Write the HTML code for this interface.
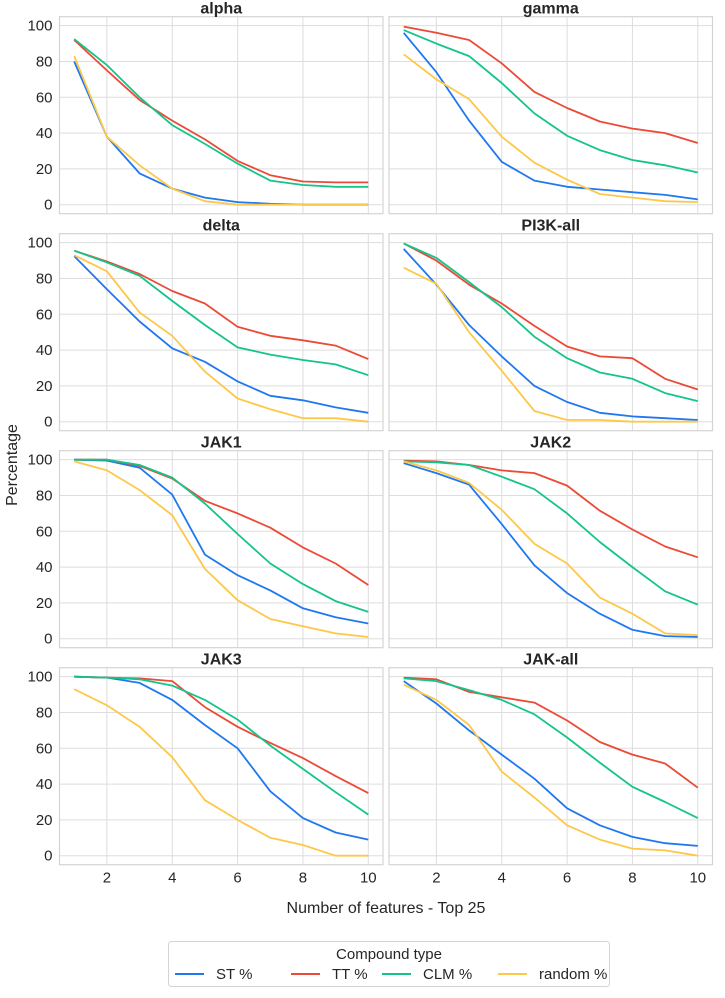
<!DOCTYPE html>
<html><head><meta charset="utf-8"><style>
body{margin:0;background:#fff;}
svg{display:block;font-family:"Liberation Sans",Arial,sans-serif;}
</style></head><body>
<svg id="chart" width="725" height="998" viewBox="0 0 725 998" xmlns="http://www.w3.org/2000/svg"></svg>
<script>
const panelTitles = ["alpha","gamma","delta","PI3K-all","JAK1","JAK2","JAK3","JAK-all"];
const xValues = [1,2,3,4,5,6,7,8,9,10];
const xTicks = [2,4,6,8,10];
const yTicks = [0,20,40,60,80,100];
const seriesNames = ["ST %","TT %","CLM %","random %"];
const stData = [
 [80,38,17.5,9,4,1.5,0.5,0,0,0],
 [96,74,47,24,13.5,10,8.5,7,5.5,3],
 [92.5,74,56,41,33.5,22.5,14.5,12,8,5],
 [96.5,76.5,54,36.5,20,11,5,3,2,1],
 [100,99.5,95.5,80.5,47,35.5,27,17,12,8.5],
 [98,92.5,86,64,41,25.5,14,5,1.5,1],
 [100,99.5,96.5,87,73,60,36,21,13,9],
 [97.5,85,70,56.5,43,26.5,17,10.5,7,5.5]];
const ttData = [
 [92,75,58.5,47,36.5,24.5,16.5,13,12.5,12.5],
 [99.5,96,92,79,63,54,46.5,42.5,40,34.5],
 [95.5,89.5,82.5,73,66,53,48,45.5,42.5,35],
 [99.5,90,76.5,66,53.5,42,36.5,35.5,24,18],
 [100,100,96.5,89.5,77,70,62,51,42,30],
 [99.5,99,97,94,92.5,85.5,71.5,61,51.5,45.5],
 [100,99.5,99,97.5,83,72,63,54.5,44.5,35],
 [99.5,98.5,91.5,88.5,85.5,75.5,63.5,56.5,51.5,38]];
const clmData = [
 [92.5,78,60,44.5,34,23,13.5,11,10,10],
 [97.5,90,83,68,51,38.5,30.5,25,22,18],
 [95.5,89,81.5,67.5,54,41.5,37.5,34.5,32,26],
 [99.5,91.5,78,64,47.5,35.5,27.5,24,16,11.5],
 [100,100,97,90,75.5,58.5,42,30.5,21,15],
 [99,98.5,97,90.5,83.5,70,54,40,26.5,19],
 [100,99.5,98.5,95,87,76,61.5,48.5,35.5,23],
 [99,97.5,92.5,87,79,66,52,38.5,30,21]];
const randomData = [
 [83,38,22,9,2,0,0,0,0,0],
 [84,70,59,38,23.5,14,6,4,2,1.5],
 [93,84,61,48,28,13,7,2,2,0],
 [86,77,50,28.5,6,1,1,0,0,0],
 [99,94,83,69,39,21.5,11,7,3,1],
 [99,94,87,72,53,42,23,14,3,2],
 [93,84,72,55,31,20,10,6,0,0],
 [95.5,87,73,47,32.5,17,9,4,3,0]];

const colors = ["#1f78f0","#eb4a36","#14c48a","#fdc84a"];
const allSeries = [stData, ttData, clmData, randomData];
const NS = "http://www.w3.org/2000/svg";
const svg = document.getElementById("chart");
function mk(tag, attrs, parent){const e=document.createElementNS(NS,tag);for(const k in attrs)e.setAttribute(k,attrs[k]);(parent||svg).appendChild(e);return e;}

const colX=[59.5,389], pw=323.5, ph=197, rowY0=16.7, rowPitch=217;
const xMin=0.55,xMax=10.45,yMin=-5,yMax=105;

panelTitles.forEach((title,i)=>{
  const c=i%2, r=Math.floor(i/2);
  const px=colX[c], py=rowY0+r*rowPitch;
  const sx=v=>px+(v-xMin)/(xMax-xMin)*pw;
  const sy=v=>py+(yMax-v)/(yMax-yMin)*ph;
  const g=mk("g",{});
  
  
  yTicks.forEach(t=>{
    const l=mk("line",{x1:px,x2:px+pw,y1:sy(t),y2:sy(t),stroke:"#dddddd","stroke-width":1},g);
    
    
    if(c===0){
      const tx=mk("text",{x:px-7,y:sy(t)+5,"text-anchor":"end","font-size":15,fill:"#262626"},g);
      tx.textContent=t;
      
      
    }
  });
  xTicks.forEach(t=>{
    const l=mk("line",{x1:sx(t),x2:sx(t),y1:py,y2:py+ph,stroke:"#dddddd","stroke-width":1},g);
    
    
    if(r===3){
      const tx=mk("text",{x:sx(t),y:py+ph+18,"text-anchor":"middle","font-size":15,fill:"#262626"},g);
      tx.textContent=t;
      
      
    }
  });
  const border=mk("rect",{x:px,y:py,width:pw,height:ph,fill:"none",stroke:"#d4d4d4","stroke-width":1.2},g);
  
  
  const tt=mk("text",{x:px+pw/2,y:py-3,"text-anchor":"middle","font-size":16,"font-weight":"bold",fill:"#262626"},g);
  tt.textContent=title;
  
  
  allSeries.forEach((s,k)=>{
    const pts=xValues.map((x,j)=>sx(x).toFixed(1)+","+sy(s[i][j]).toFixed(1)).join(" ");
    const pl=mk("polyline",{points:pts,fill:"none",stroke:colors[k],"stroke-width":1.8,"stroke-linejoin":"round"},g);
    
    
  });
});

const yl=mk("text",{x:0,y:0,transform:"translate(17,465) rotate(-90)","text-anchor":"middle","font-size":16,fill:"#262626"});
yl.textContent="Percentage";


const xl=mk("text",{x:386,y:913,"text-anchor":"middle","font-size":16,fill:"#262626"});
xl.textContent="Number of features - Top 25";



const lg=mk("g",{});


const lb=mk("rect",{x:168.5,y:941.5,width:441,height:45,rx:3,fill:"#fff",stroke:"#d4d4d4","stroke-width":1},lg);


const lt=mk("text",{x:389,y:959,"text-anchor":"middle","font-size":15,fill:"#262626"},lg);
lt.textContent="Compound type";


const lxs=[175,291,382,498];
seriesNames.forEach((n,k)=>{
  const e=mk("g",{},lg);
  
  
  mk("line",{x1:lxs[k],x2:lxs[k]+29,y1:974,y2:974,stroke:colors[k],"stroke-width":2},e);
  const t=mk("text",{x:lxs[k]+41,y:979,"font-size":15,fill:"#262626"},e);
  t.textContent=n;
});
</script>
</body></html>
